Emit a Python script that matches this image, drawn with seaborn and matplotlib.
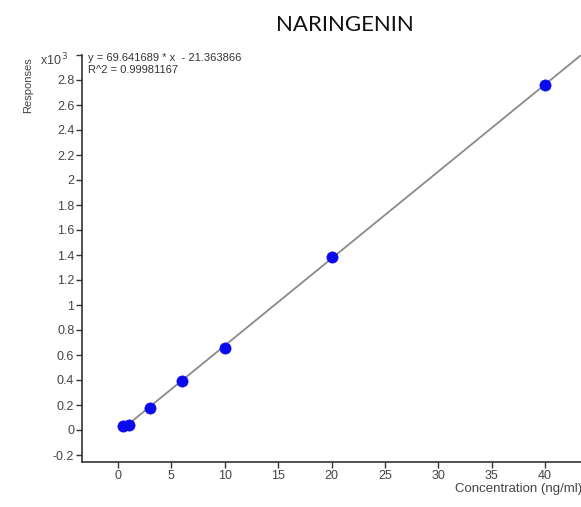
import matplotlib
matplotlib.use("Agg")
import matplotlib.pyplot as plt
import seaborn as sns
import numpy as np
import pandas as pd

# Calibration standards (concentration in ng/ml, responses)
concentration = [0.5, 1, 3, 6, 10, 20, 40]
responses = [30, 42, 178, 395, 655, 1385, 2760]

# Linear fit reported on the chart
slope = 69.641689
intercept = -21.363866
r_squared = 0.99981167

x_ticks = [0, 5, 10, 15, 20, 25, 30, 35, 40]
y_ticks = [-0.2, 0, 0.2, 0.4, 0.6, 0.8, 1, 1.2, 1.4, 1.6, 1.8, 2, 2.2, 2.4, 2.6, 2.8, 3.0]

sns.set_theme(style="white")
plt.rcParams["font.family"] = ["Liberation Sans", "DejaVu Sans"]

W, H = 581, 507
fig = plt.figure(figsize=(W / 100, H / 100), dpi=100)
ax = fig.add_axes([82 / W, 1 - 462 / H, 1 - 82 / W, (462 - 55) / H])

xlim = (-3.37, 43.37)
df = pd.DataFrame({"conc": concentration, "resp": np.array(responses) / 1000})

# fitted line from the lowest standard to the right edge
xl = np.array([concentration[0], xlim[1]])
fit = pd.DataFrame({"conc": xl, "resp": (slope * xl + intercept) / 1000})
sns.lineplot(data=fit, x="conc", y="resp", ax=ax, color="#8a8a8a", linewidth=1.3)
sns.scatterplot(data=df, x="conc", y="resp", ax=ax, color="#0a0aee", s=65,
                edgecolor="#0a0aee", linewidth=0.5, zorder=3)

ax.set_xlim(*xlim)
ax.set_ylim(-0.256, 3.0)
ax.set_xticks(x_ticks)
ax.set_xticklabels([str(t) for t in x_ticks])
ax.set_yticks(y_ticks)
ax.set_yticklabels([("%g" % t) for t in y_ticks[:-1]] + [""])
ax.set_xlabel("")
ax.set_ylabel("")

for s in ["top", "right"]:
    ax.spines[s].set_visible(False)
for s in ["left", "bottom"]:
    ax.spines[s].set_color("#333333")
    ax.spines[s].set_linewidth(1.2)

ax.tick_params(axis="both", which="major", direction="out", length=4, width=1,
               color="#333333", labelsize=9, labelcolor="#444444", pad=1.5,
               left=True, bottom=True)

# title, axis captions and regression text
fig.text(345 / W, 1 - 25 / H, "NARINGENIN", ha="center", va="center",
         fontsize=16, family=["Lato", "DejaVu Sans"], color="#111111")
fig.text(28 / W, 1 - 85 / H, "Responses", rotation=90, ha="center", va="center",
         fontsize=8, color="#444444")
fig.text(40 / W, 1 - 60 / H, r"x10$^{\,3}$", ha="left", va="center",
         fontsize=9, color="#444444")
fig.text(455 / W, 1 - 489 / H, "Concentration (ng/ml)", ha="left", va="center",
         fontsize=9.5, color="#444444")
fig.text(88 / W, 1 - 58 / H, "y = %.6f * x  - %.6f" % (slope, -intercept),
         ha="left", va="center", fontsize=8, color="#333333")
fig.text(88 / W, 1 - 70 / H, "R^2 = %.8f" % r_squared,
         ha="left", va="center", fontsize=8, color="#333333")

fig.savefig("out.png", dpi=100)
